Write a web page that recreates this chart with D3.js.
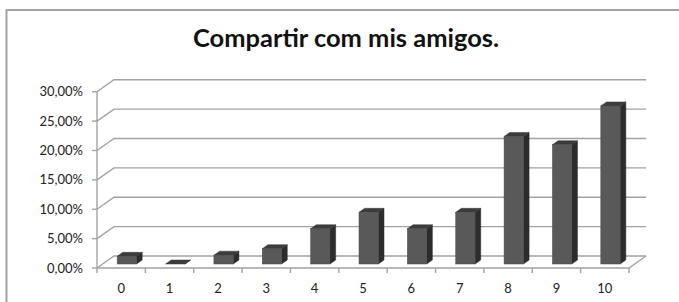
<!DOCTYPE html>
<html>
<head>
<meta charset="utf-8">
<script src="https://cdn.jsdelivr.net/npm/d3@7"></script>
<style>
  html, body { margin: 0; padding: 0; background: #fff; }
  svg { display: block; }
</style>
</head>
<body>
<svg id="chart" width="679" height="302"></svg>
<script>
const title = "Compartir com mis amigos.";
const categories = ["0", "1", "2", "3", "4", "5", "6", "7", "8", "9", "10"];
const values = [0.013, 0.0, 0.015, 0.026, 0.060, 0.088, 0.060, 0.088, 0.217, 0.203, 0.269];
const yTicks = [0, 0.05, 0.10, 0.15, 0.20, 0.25, 0.30];
const yTickLabels = ["0,00%", "5,00%", "10,00%", "15,00%", "20,00%", "25,00%", "30,00%"];

const svg = d3.select("#chart");
const font = "Lato, 'Open Sans', sans-serif";

// frame
svg.append("path")
  .attr("d", "M6.5,302 L6.5,10 L679,10")
  .attr("fill", "none").attr("stroke", "#a3a3a3").attr("stroke-width", 2);

// title
svg.append("text")
  .attr("x", 346).attr("y", 47)
  .attr("text-anchor", "middle")
  .attr("font-family", font).attr("font-weight", "bold").attr("font-size", 24)
  .attr("textLength", 306).attr("lengthAdjust", "spacingAndGlyphs")
  .attr("fill", "#111")
  .text(title);

const x0 = 97, x1 = 629;
const dx = 17, dy = -12;  // depth offset of the 3D floor

const x = d3.scaleBand().domain(categories).range([x0, x1]).paddingInner(0.6).paddingOuter(0.3);
const xEdge = d3.scaleBand().domain(categories).range([x0, x1]).padding(0);
const y = d3.scaleLinear().domain([0, 0.30]).range([268, 91.7]);

const grid = svg.append("g").attr("stroke", "#a3a3a3").attr("stroke-width", 1.4).attr("fill", "none");
yTicks.forEach(v => {
  const yy = y(v);
  grid.append("path")
    .attr("d", `M${x0},${yy} L${x0 + dx},${yy + dy} L${x1 + dx},${yy + dy}`);
});
// floor front edge & right edge
grid.append("path").attr("d", `M${x0},${y(0)} L${x1},${y(0)} L${x1 + dx},${y(0) + dy}`);
// vertical axis
grid.append("line").attr("x1", x0).attr("x2", x0).attr("y1", y(0.30)).attr("y2", y(0));
// y ticks
yTicks.forEach(v => {
  grid.append("line").attr("x1", x0 - 5).attr("x2", x0).attr("y1", y(v)).attr("y2", y(v));
});
// x ticks
const edges = categories.map(c => xEdge(c)).concat([x1]);
edges.forEach(e => {
  grid.append("line").attr("x1", e).attr("x2", e).attr("y1", y(0)).attr("y2", y(0) + 5);
});

// y labels
svg.append("g").selectAll("text").data(yTicks).join("text")
  .attr("x", 83).attr("y", d => y(d) + 4.5)
  .attr("text-anchor", "end")
  .attr("font-family", font).attr("font-size", 13).attr("fill", "#222")
  .text((d, i) => yTickLabels[i]);

// x labels
svg.append("g").selectAll("text").data(categories).join("text")
  .attr("x", d => xEdge(d) + xEdge.bandwidth() / 2)
  .attr("y", 293)
  .attr("text-anchor", "middle")
  .attr("font-family", font).attr("font-size", 13).attr("fill", "#222")
  .text(d => d);

// bars (3D)
const fx = dx / 3, fy = dy / 3;   // bar front offset
const bdx = dx / 3, bdy = dy / 3; // bar depth
const bars = svg.append("g");
categories.forEach((c, i) => {
  const left = x(c) + fx;
  const w = x.bandwidth();
  const base = y(0) + fy;
  const top = y(values[i]) + fy;
  const g = bars.append("g");
  // side
  g.append("path")
    .attr("d", `M${left + w},${base} L${left + w + bdx},${base + bdy} L${left + w + bdx},${top + bdy} L${left + w},${top} Z`)
    .attr("fill", "#2c2c2c").attr("stroke", "#2c2c2c").attr("stroke-width", 0.5);
  // top
  g.append("path")
    .attr("d", `M${left},${top} L${left + bdx},${top + bdy} L${left + w + bdx},${top + bdy} L${left + w},${top} Z`)
    .attr("fill", "#3c3c3c").attr("stroke", "#3a3a3a").attr("stroke-width", 0.5);
  // front
  if (top < base) {
    g.append("rect")
      .attr("x", left).attr("y", top).attr("width", w).attr("height", base - top)
      .attr("fill", "#595959").attr("stroke", "#4a4a4a").attr("stroke-width", 0.5);
  }
});
</script>
</body>
</html>
